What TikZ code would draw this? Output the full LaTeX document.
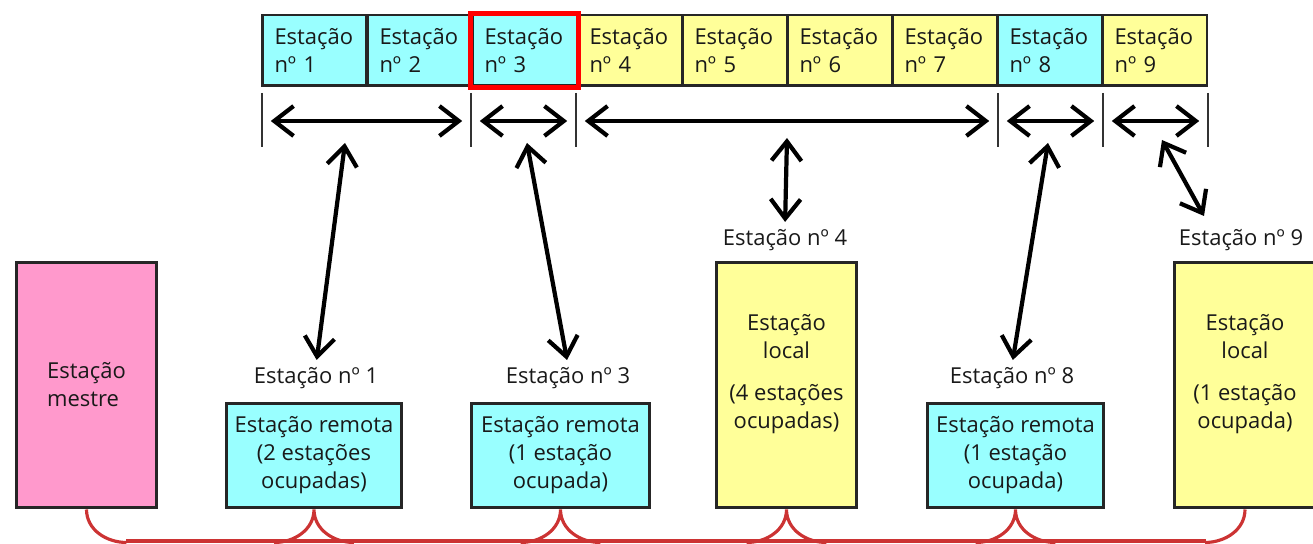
\documentclass[tikz,border=0pt]{standalone}
\usepackage{fontspec}
\setmainfont{Open Sans}
\usetikzlibrary{arrows.meta}
\definecolor{remcyan}{HTML}{99FFFF}
\definecolor{locyellow}{HTML}{FFFF99}
\definecolor{mstpink}{HTML}{FF99CC}
\definecolor{busred}{HTML}{CC3333}

\begin{document}
\begin{tikzpicture}[x=0.02cm, y=-0.02cm,
  every node/.style={font=\fontsize{12.5}{15.9}\selectfont, text=black!90},
  cell/.style={draw=black!85, line width=1.7pt, minimum width=2.1cm, minimum height=1.42cm, text width=1.6cm, inner xsep=0.25cm, inner ysep=0pt, align=left},
  box/.style={draw=black!85, line width=1.7pt, inner sep=0pt, align=center},
  lab/.style={inner sep=1pt},
  hilite/.style={draw=red, line width=3pt},
  tick/.style={draw=black!80, line width=1.2pt},
  va/.style={{Straight Barb[length=11pt,width=17pt]}-{Straight Barb[length=11pt,width=17pt]}, line width=2.4pt},
  dbl/.style={va, shorten <=5pt, shorten >=5pt},
  bus/.style={draw=busred, line width=1.8pt}]
  \useasboundingbox (0,0) rectangle (1313,544);

  \node[cell, fill=remcyan] (c1) at (314.5,50.5) {Estação\\nº 1};
  \node[cell, fill=remcyan] (c2) at (419.5,50.5) {Estação\\nº 2};
  \node[cell, fill=remcyan] (c3) at (524.5,50.5) {Estação\\nº 3};
  \node[cell, fill=locyellow] (c4) at (629.5,50.5) {Estação\\nº 4};
  \node[cell, fill=locyellow] (c5) at (734.5,50.5) {Estação\\nº 5};
  \node[cell, fill=locyellow] (c6) at (839.5,50.5) {Estação\\nº 6};
  \node[cell, fill=locyellow] (c7) at (944.5,50.5) {Estação\\nº 7};
  \node[cell, fill=remcyan] (c8) at (1049.5,50.5) {Estação\\nº 8};
  \node[cell, fill=locyellow] (c9) at (1154.5,50.5) {Estação\\nº 9};
  \draw[hilite] (c3.north west) rectangle (c3.south east);

  \coordinate (r1) at (262,121);
  \coordinate (r2) at (471,121);
  \coordinate (r3) at (576,121);
  \coordinate (r4) at (998,121);
  \coordinate (r5) at (1103,121);
  \coordinate (r6) at (1208,121);
  \foreach \r in {r1,r2,r3,r4,r5,r6}
    \draw[tick] (\r) ++(0,-28) -- ++(0,54);

  \draw[dbl] (r1) -- (r2);
  \draw[dbl] (r2) -- (r3);
  \draw[dbl] (r3) -- (r4);
  \draw[dbl] (r4) -- (r5);
  \draw[dbl] (r5) -- (r6);

  \node[box, fill=mstpink, minimum width=2.82cm, minimum height=4.92cm, align=left] (mst) at (86.5,385) {Estação\\mestre};
  \node[box, fill=remcyan, minimum width=3.52cm, minimum height=2.1cm] (rem1) at (314,455.5) {Estação remota\\(2 estações\\ocupadas)};
  \node[box, fill=remcyan, minimum width=3.58cm, minimum height=2.1cm] (rem3) at (560.5,455.5) {Estação remota\\(1 estação\\ocupada)};
  \node[box, fill=locyellow, minimum width=2.82cm, minimum height=4.92cm] (loc4) at (786.5,385) {Estação\\local\\[8pt](4 estações\\ocupadas)\\ \mbox{}};
  \node[box, fill=remcyan, minimum width=3.54cm, minimum height=2.1cm] (rem8) at (1015.5,455.5) {Estação remota\\(1 estação\\ocupada)};
  \node[box, fill=locyellow, minimum width=2.84cm, minimum height=4.92cm] (loc9) at (1245,385) {Estação\\local\\[8pt](1 estação\\ocupada)\\ \mbox{}};

  \node[lab] (l1) at (316,378) {Estação nº 1};
  \node[lab] (l3) at (568,378) {Estação nº 3};
  \node[lab] (l4) at (785,240) {Estação nº 4};
  \node[lab] (l8) at (1012,378) {Estação nº 8};
  \node[lab] (l9) at (1241,240) {Estação nº 9};

  \coordinate (a1) at (345,143);
  \coordinate (a3) at (527,143);
  \coordinate (a4) at (787,138);
  \coordinate (a8) at (1048,143);
  \coordinate (a9) at (1162,140);
  \coordinate (b9) at (1204,216);
  \draw[va, shorten >=3pt] (a1) -- (l1.north);
  \draw[va, shorten >=3pt] (a3) -- (l3.north);
  \draw[va, shorten >=3pt] (a4) -- (l4.north);
  \draw[va, shorten >=3pt] (a8) -- (l8.north);
  \draw[va] (a9) -- (b9);

  \draw[bus] (mst.south) to[out=-90,in=180] ++(40,33);
  \foreach \n in {rem1,rem3,loc4,rem8}
    \draw[bus] (\n.south) to[out=-90,in=0] ++(-40,33) (\n.south) to[out=-90,in=180] ++(40,33);
  \draw[bus] (loc9.south) to[out=-90,in=0] ++(-40,33);
  \coordinate (busl) at (126,541);
  \coordinate (busr) at (1206,541);
  \draw[bus] (busl) -- (busr);
\end{tikzpicture}
\end{document}
